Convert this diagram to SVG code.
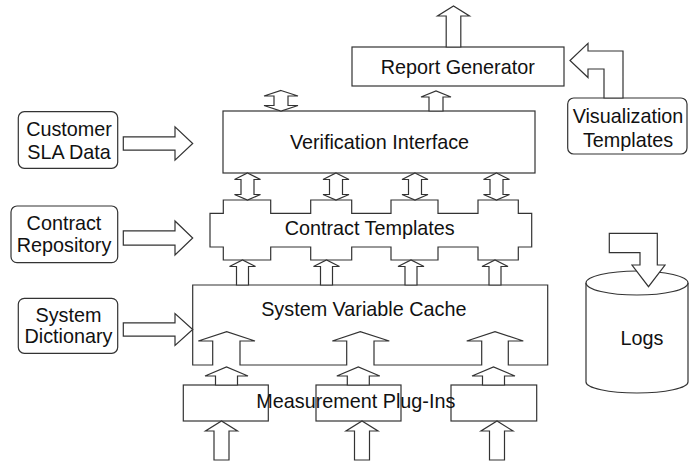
<svg xmlns="http://www.w3.org/2000/svg" width="689" height="462" viewBox="0 0 689 462">
<style>
.s{fill:#fff;stroke:#333;stroke-width:1.2}
.a{fill:#fff;stroke:#333;stroke-width:1.2;stroke-linejoin:miter}
.t{font-family:"Liberation Sans",Arial,sans-serif;font-size:19.8px;fill:#111;text-anchor:middle}
</style>
<rect width="689" height="462" fill="#fff"/>
<g id="report-generator">
<rect class="s" x="352" y="47" width="212" height="39"/>
<text class="t" x="457.8" y="73.5">Report Generator</text>
</g>
<g id="verification-interface">
<rect class="s" x="223" y="111" width="312" height="62"/>
<text class="t" x="379.5" y="149.3">Verification Interface</text>
</g>
<g id="contract-templates">
<path class="s" d="M210,213.3 H223.3 V200 H270.7 V213.3 H310.7 V200 H351.7 V213.3 H391 V200 H438 V213.3 H478 V200 H518.3 V213.3 H531.7 V247 H518.3 V260 H478 V247 H438 V260 H391 V247 H351.7 V260 H310.7 V247 H270.7 V260 H223.3 V247 H210 Z"/>
<text class="t" x="369.7" y="235">Contract Templates</text>
</g>
<g id="system-variable-cache">
<path class="s" d="M192.7,285 H547.7 V365 H508.3 V341 H523.3 L495,331.7 L466.7,341 H481.7 V365 H374 V341 H389.3 L360.3,331.7 L332.3,341 H346.7 V365 H240 V341 H255 L226.7,331.7 L198.3,341 H212.7 V365 H192.7 Z"/>
<text class="t" x="363.8" y="315.7">System Variable Cache</text>
</g>
<g id="measurement-plug-ins">
<rect class="s" x="183.3" y="385" width="85" height="36"/>
<rect class="s" x="316" y="385" width="85" height="36"/>
<rect class="s" x="451" y="385" width="85.7" height="36"/>
<text class="t" x="355.8" y="407.7">Measurement Plug-Ins</text>
</g>
<g id="customer-sla-data">
<rect class="s" x="18.3" y="111.7" width="99.4" height="56.6" rx="6"/>
<text class="t" x="69" y="136">Customer</text>
<text class="t" x="69" y="159.3">SLA Data</text>
</g>
<g id="contract-repository">
<rect class="s" x="11" y="206" width="106.7" height="56.7" rx="6"/>
<text class="t" x="64" y="230">Contract</text>
<text class="t" x="64" y="251.7">Repository</text>
</g>
<g id="system-dictionary">
<rect class="s" x="18.3" y="298.3" width="99.4" height="55" rx="6"/>
<text class="t" x="68.5" y="321.7">System</text>
<text class="t" x="68.5" y="343.3">Dictionary</text>
</g>
<g id="visualization-templates">
<rect class="s" x="567.7" y="98" width="119.3" height="56" rx="6"/>
<text class="t" x="628" y="123.3">Visualization</text>
<text class="t" x="628" y="146.7">Templates</text>
</g>
<g id="logs">
<path class="s" d="M586,283 V382 A51,11 0 0 0 688,382 V283"/>
<ellipse class="s" cx="637" cy="283" rx="51" ry="12"/>
<text class="t" x="642" y="345">Logs</text>
</g>
<g id="connectors">
<polygon class="a" points="446.2,47 446.2,16 437.5,16 453.5,6 469.5,16 460.8,16 460.8,47"/>
<polygon class="a" points="429,111 429,97 421,97 436,91 451,97 443,97 443,111"/>
<polygon class="a" points="604,98 604,69 588,69 588,77.5 570,60.5 588,43.3 588,51 623,51 623,98"/>
<polygon class="a" points="281,90.5 298,96 288,96 288,105.5 298,105.5 281,111 264,105.5 274,105.5 274,96 264,96"/>
<polygon class="a" points="247.5,173 260.5,179.5 254,179.5 254,194.5 260.5,194.5 247.5,200 234.5,194.5 241,194.5 241,179.5 234.5,179.5"/>
<polygon class="a" points="336,173 349,179.5 342.5,179.5 342.5,194.5 349,194.5 336,200 323,194.5 329.5,194.5 329.5,179.5 323,179.5"/>
<polygon class="a" points="415,173 428,179.5 421.5,179.5 421.5,194.5 428,194.5 415,200 402,194.5 408.5,194.5 408.5,179.5 402,179.5"/>
<polygon class="a" points="496.5,173 509.5,179.5 503,179.5 503,194.5 509.5,194.5 496.5,200 483.5,194.5 490,194.5 490,179.5 483.5,179.5"/>
<polygon class="a" points="236.5,285 236.5,266.5 229.5,266.5 242.5,260 255.5,266.5 248.5,266.5 248.5,285"/>
<polygon class="a" points="320.5,285 320.5,266.5 313.5,266.5 326.5,260 339.5,266.5 332.5,266.5 332.5,285"/>
<polygon class="a" points="405,285 405,266.5 398,266.5 411,260 424,266.5 417,266.5 417,285"/>
<polygon class="a" points="489,285 489,266.5 482,266.5 495,260 508,266.5 501,266.5 501,285"/>
<polygon class="a" points="215.5,385 215.5,376 205,376 226.5,367 248,376 237.5,376 237.5,385"/>
<polygon class="a" points="347.3,385 347.3,376 336.8,376 358.3,367 379.8,376 369.3,376 369.3,385"/>
<polygon class="a" points="482.5,385 482.5,376 472,376 493.5,367 515,376 504.5,376 504.5,385"/>
<polygon class="a" points="214,460 214,431 205.5,431 221.5,421 237.5,431 229,431 229,460"/>
<polygon class="a" points="354.5,460 354.5,431 346,431 362,421 378,431 369.5,431 369.5,460"/>
<polygon class="a" points="489.5,460 489.5,431 481,431 497,421 513,431 504.5,431 504.5,460"/>
<polygon class="a" points="123.3,136.8 175,136.8 175,126.8 192.7,143.5 175,160.2 175,150.2 123.3,150.2"/>
<polygon class="a" points="123.3,230.8 175,230.8 175,221 192.7,238 175,255 175,245.2 123.3,245.2"/>
<polygon class="a" points="123.3,322.8 175,322.8 175,313.5 192.7,329.5 175,345.5 175,336.2 123.3,336.2"/>
<polygon class="a" points="609.3,233.3 657.3,233.3 657.3,265 665,265 648.5,286.7 632,265 640,265 640,252.7 609.3,252.7"/>
</g>
</svg>
